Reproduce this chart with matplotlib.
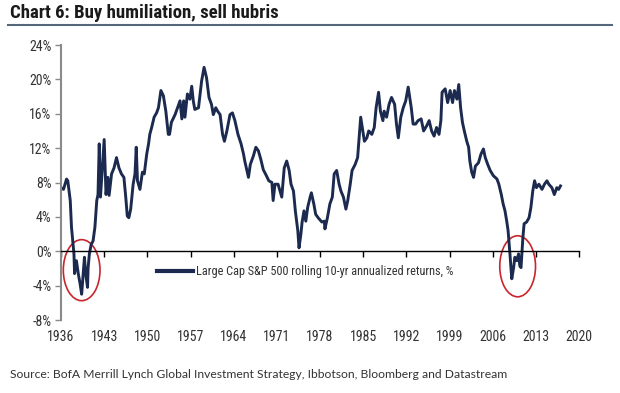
import matplotlib
matplotlib.use("Agg")
import matplotlib.pyplot as plt
from matplotlib.lines import Line2D
from matplotlib.patches import Ellipse

# rolling 10-yr annualized return of large cap S&P 500, %
years = [
    1936.0, 1936.4, 1936.9, 1937.1, 1937.5, 1937.7, 1938.0, 1938.1, 1938.2, 1938.5,
    1938.8, 1939.1, 1939.35, 1939.6, 1939.8, 1940.0, 1940.3, 1940.4, 1940.6, 1940.9,
    1941.2, 1941.5, 1941.8, 1942.0, 1942.2, 1942.4, 1942.7, 1943.0, 1943.3, 1943.6,
    1943.8, 1944.2, 1944.6, 1945.0, 1945.4, 1945.8, 1946.2, 1946.5, 1946.75, 1947.0,
    1947.3, 1947.7, 1948.0, 1948.2, 1948.4, 1948.8, 1949.2, 1949.5, 1949.9, 1950.2,
    1950.4, 1950.7, 1951.1, 1951.5, 1951.8, 1952.2, 1952.6, 1953.0, 1953.4, 1953.6,
    1953.9, 1954.5, 1954.9, 1955.3, 1955.6, 1955.9,
    1956.1, 1956.5, 1956.9, 1957.2, 1957.45, 1957.7, 1958.3, 1958.8, 1959.2, 1959.6,
    1960.0, 1960.4, 1960.7, 1961.1, 1961.4, 1961.8, 1962.2, 1962.5, 1962.9, 1963.4,
    1963.8, 1964.2, 1964.7, 1965.2, 1965.6, 1965.8, 1966.4, 1966.7, 1967.2, 1967.6,
    1968.0, 1968.4, 1968.8, 1969.3, 1969.7, 1970.2, 1970.4, 1970.7, 1971.2, 1971.8,
    1972.2, 1972.6, 1973.0, 1973.3, 1973.7, 1974.0, 1974.4, 1974.6, 1974.9, 1975.1,
    1975.4, 1975.7, 1976.0, 1976.4, 1976.6, 1977.0,
    1977.3, 1977.7, 1978.3, 1978.7, 1978.8, 1979.2, 1979.6, 1980.0, 1980.3, 1980.7,
    1981.1, 1981.4, 1981.8, 1982.2, 1982.5, 1982.9, 1983.2, 1983.7, 1984.1, 1984.3,
    1984.6, 1984.9, 1985.2, 1985.6, 1985.9, 1986.4, 1986.8, 1987.1, 1987.5, 1987.8,
    1988.2, 1988.4, 1988.8, 1989.2, 1989.6, 1990.1, 1990.4, 1990.7, 1991.1, 1991.5,
    1991.9, 1992.3, 1992.8, 1993.1, 1993.5, 1993.9, 1994.4, 1994.8, 1995.3, 1995.7,
    1996.1, 1996.5, 1996.9, 1997.3, 1997.6, 1997.8,
    1998.3, 1998.7, 1999.1, 1999.5, 1999.8, 2000.2, 2000.5, 2000.8, 2001.1, 2001.4,
    2001.8, 2002.1, 2002.3, 2002.6, 2002.9, 2003.2, 2003.7, 2004.1, 2004.5, 2004.8,
    2005.2, 2005.6, 2006.1, 2006.7, 2007.0, 2007.4, 2007.7, 2008.0, 2008.3, 2008.5,
    2008.8, 2009.1, 2009.4, 2009.6, 2009.9, 2010.2, 2010.4, 2010.6, 2010.9, 2011.1,
    2011.5, 2011.9, 2012.2, 2012.5, 2012.8, 2013.1, 2013.5, 2014.0, 2014.4, 2014.8,
    2015.1, 2015.6, 2016.0, 2016.4, 2016.7, 2017.0,
]
returns = [
    7.4, 7.2, 8.4, 8.2, 5.9, 2.8, 0.4, -0.3, -2.6, -1.1,
    -2.6, -3.8, -5.0, -2.6, -0.7, -2.6, -4.2, -1.9, -0.3, 0.8,
    1.2, 2.8, 5.9, 6.6, 12.5, 6.3, 9.7, 13.0, 6.6, 8.6,
    6.5, 9.0, 9.7, 10.9, 9.7, 9.0, 8.6, 6.3, 4.1, 3.9,
    4.9, 7.8, 9.0, 12.1, 8.2, 7.2, 9.2, 9.0, 11.3, 12.5,
    13.6, 14.4, 15.6, 16.1, 16.7, 18.7, 18.1, 16.3, 13.6, 13.6,
    15.0, 15.9, 16.7, 17.5, 15.4, 17.5,
    15.6, 18.3, 17.7, 19.2, 17.5, 16.5, 16.7, 19.8, 21.4, 20.2,
    17.9, 17.1, 15.9, 16.7, 16.3, 15.9, 13.6, 12.8, 14.0, 15.9,
    16.1, 15.2, 13.6, 12.5, 11.3, 10.5, 8.6, 10.1, 11.1, 12.1,
    11.7, 10.7, 9.5, 8.8, 8.2, 8.0, 5.9, 7.8, 7.8, 6.3,
    9.7, 10.5, 9.4, 7.8, 7.0, 4.7, 2.4, 0.4, 2.0, 3.4,
    4.7, 3.5, 5.1, 6.3, 6.8, 5.5,
    4.3, 3.9, 3.4, 3.5, 2.6, 3.9, 5.5, 6.3, 9.0, 9.4,
    7.8, 7.0, 6.3, 4.9, 5.9, 7.8, 9.4, 10.1, 10.9, 12.8,
    15.6, 14.2, 12.8, 13.2, 14.0, 13.6, 14.4, 16.7, 18.5, 16.3,
    15.2, 16.3, 15.6, 17.1, 17.9, 17.1, 14.8, 13.2, 15.6, 16.7,
    17.5, 19.1, 16.7, 14.8, 14.8, 15.2, 15.4, 14.0, 14.6, 15.2,
    14.0, 13.4, 14.4, 13.6, 15.2, 18.5,
    18.9, 17.3, 18.7, 17.3, 18.7, 17.7, 19.4, 16.7, 15.0, 14.0,
    12.8, 12.1, 10.5, 9.2, 8.6, 9.9, 10.3, 11.3, 11.9, 10.9,
    10.1, 9.4, 8.8, 8.4, 7.8, 6.6, 5.5, 4.7, 3.4, 2.4,
    -0.3, -3.2, -1.9, -0.7, -1.1, -0.3, -1.7, -1.9, 1.6, 3.2,
    3.4, 3.9, 5.1, 7.0, 8.2, 7.4, 7.8, 7.2, 7.8, 8.2,
    7.8, 7.4, 6.6, 7.4, 7.2, 7.6,
]
year_ticks = list(range(1936, 2021, 7))
pct_ticks = list(range(-8, 25, 4))
series_label = "Large Cap S&P 500 rolling 10-yr annualized returns, %"

NAVY = "#1b2a4e"
NARROW = ["Roboto Condensed", "DejaVu Sans"]

fig = plt.figure(figsize=(6.2, 3.93), dpi=100)
ax = fig.add_axes([61 / 620, 73 / 393, 518 / 620, 275 / 393])

ax.plot(years, returns, color=NAVY, lw=2.1, label=series_label, solid_joinstyle="round")

# red rings around the two drawdowns
for cx, cy, w, h in [(1939.35, -2.2, 5.95, 7.1), (2010.05, -1.75, 5.8, 7.1)]:
    ax.add_patch(Ellipse((cx, cy), w, h, fill=False, ec="#c8252c", lw=1.2))

ax.set_xlim(1936, 2020)
ax.set_ylim(-8, 24)
ax.set_xticks(year_ticks)
ax.set_yticks(pct_ticks)
ax.set_yticklabels([f"{t}%" for t in pct_ticks])

for side in ("top", "right"):
    ax.spines[side].set_visible(False)
ax.spines["left"].set_color("#8a8a8a")
ax.spines["left"].set_linewidth(1.5)
ax.spines["bottom"].set_position(("data", 0))
ax.spines["bottom"].set_color("black")
ax.spines["bottom"].set_linewidth(1.0)

ax.tick_params(axis="y", direction="out", length=4, width=1, color="#8a8a8a",
               labelcolor="#333333", labelsize=10, pad=3)
ax.tick_params(axis="x", direction="out", length=4, width=1, color="black",
               labelcolor="#333333", labelsize=10, pad=53)
for lab in ax.get_xticklabels() + ax.get_yticklabels():
    lab.set_family(NARROW)

leg = ax.legend(loc="center left", bbox_to_anchor=(0.185, 0.175), frameon=False,
                handlelength=3.0, handletextpad=0.2, borderpad=0, borderaxespad=0,
                prop={"family": NARROW, "size": 8.8})
for t in leg.get_texts():
    t.set_color("#333333")
leg.get_lines()[0].set_linewidth(3)

fig.text(10 / 620, 1 - 13 / 393, "Chart 6: Buy humiliation, sell hubris",
         family=NARROW, weight="bold", size=13.5, color="#1a1a1a", va="center")
fig.add_artist(Line2D([8 / 620, 612 / 620], [1 - 25 / 393, 1 - 25 / 393],
                      transform=fig.transFigure, color="#55687a", lw=1.5))
fig.text(10 / 620, 1 - 375 / 393,
         "Source: BofA Merrill Lynch Global Investment Strategy, Ibbotson, Bloomberg and Datastream",
         family=["Lato", "DejaVu Sans"], size=8.7, color="#333333", va="center")

fig.savefig("out.png", dpi=100)
